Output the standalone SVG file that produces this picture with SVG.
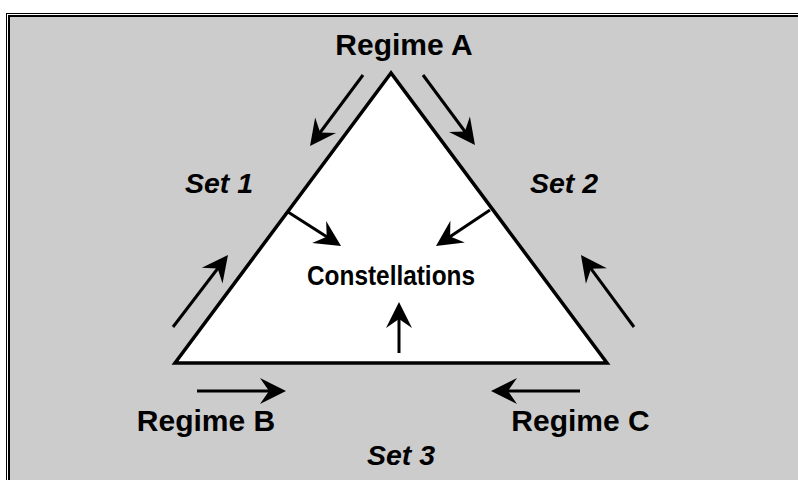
<svg xmlns="http://www.w3.org/2000/svg" width="798" height="480" viewBox="0 0 798 480">
<style>
.lbl{font-family:"Liberation Sans",Arial,sans-serif;font-weight:bold;font-size:30px;fill:#000}
.set{font-family:"Liberation Sans",Arial,sans-serif;font-weight:bold;font-style:italic;font-size:28.5px;fill:#000}
.cons{font-family:"Liberation Sans Narrow","Liberation Sans",Arial,sans-serif;font-weight:bold;font-size:28px;fill:#000}
.arr{stroke:#000;stroke-width:3;fill:none;marker-end:url(#ah)}
</style>
<defs>
<marker id="ah" viewBox="-17 -14 28 28" refX="0" refY="0" markerWidth="28" markerHeight="28" markerUnits="userSpaceOnUse" orient="auto">
<path d="M10,0 L-16,-13 L-7,0 L-16,13 Z" fill="#000"/>
</marker>
</defs>
<rect x="0" y="0" width="798" height="480" fill="#fff"/>
<g id="frame">
<rect x="6.5" y="13.5" width="900" height="900" fill="none" stroke="#000" stroke-width="1"/>
<rect x="9" y="16" width="900" height="900" fill="#cccccc" stroke="#000" stroke-width="2"/>
</g>
<g id="triangle">
<polygon points="391,73 175,363 607,363" fill="#fff" stroke="#000" stroke-width="3.5" stroke-miterlimit="10"/>
</g>
<g id="connectors">
<line class="arr" x1="363" y1="75" x2="316" y2="138"/>
<line class="arr" x1="423" y1="75" x2="469" y2="137"/>
<line class="arr" x1="173" y1="327" x2="221.9" y2="263"/>
<line class="arr" x1="634" y1="327" x2="586.9" y2="263.1"/>
<line class="arr" x1="197" y1="391" x2="276" y2="391"/>
<line class="arr" x1="580" y1="391" x2="501" y2="391"/>
<line class="arr" x1="288" y1="212" x2="332.6" y2="240.6"/>
<line class="arr" x1="490" y1="210" x2="444.3" y2="240.5"/>
<line class="arr" x1="399" y1="353" x2="399" y2="312"/>
</g>
<g id="regimeA"><text class="lbl" x="404" y="55" text-anchor="middle">Regime A</text></g>
<g id="regimeB"><text class="lbl" x="206" y="431" text-anchor="middle">Regime B</text></g>
<g id="regimeC"><text class="lbl" x="580.5" y="431" text-anchor="middle">Regime C</text></g>
<g id="set1"><text class="set" x="185" y="193">Set 1</text></g>
<g id="set2"><text class="set" x="530" y="193">Set 2</text></g>
<g id="set3"><text class="set" x="367" y="465">Set 3</text></g>
<g id="constellations"><text class="cons" x="307" y="285" textLength="168" lengthAdjust="spacingAndGlyphs">Constellations</text></g>
</svg>
